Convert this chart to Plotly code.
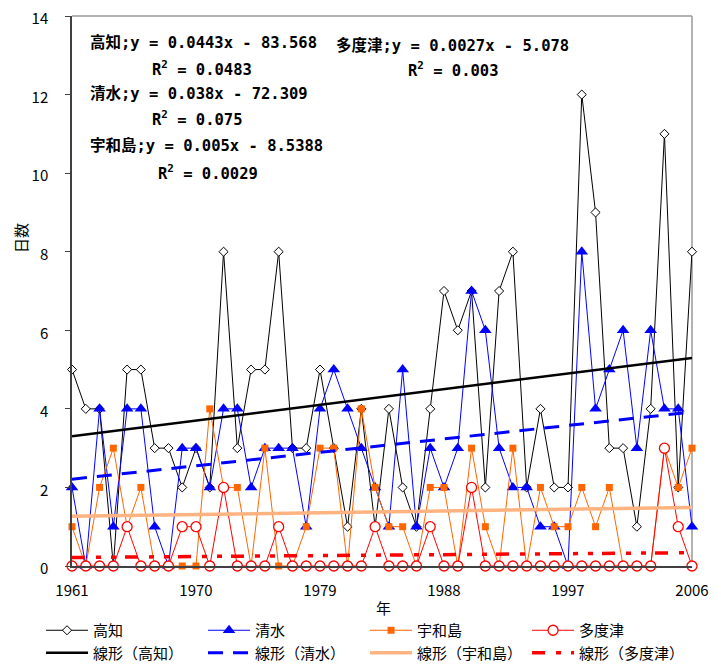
import plotly.graph_objects as go

# ---------------- data ----------------
years = list(range(1961, 2007))
kochi = [5, 4, 4, 0, 5, 5, 3, 3, 2, 3,
         2, 8, 3, 5, 5, 8, 3, 3, 5, 3,
         1, 4, 1, 4, 2, 1, 4, 7, 6, 7,
         2, 7, 8, 2, 4, 2, 2, 12, 9, 3,
         3, 1, 4, 11, 2, 8]
shimizu = [2, 0, 4, 1, 4, 4, 1, 0, 3, 3,
           2, 4, 4, 2, 3, 3, 3, 1, 4, 5,
           4, 3, 2, 1, 5, 1, 3, 2, 3, 7,
           6, 3, 2, 2, 1, 1, 0, 8, 4, 5,
           6, 3, 6, 4, 4, 1]
uwajima = [1, 0, 2, 3, 1, 2, 0, 0, 0, 0,
           4, 2, 2, 0, 3, 0, 0, 1, 3, 3,
           0, 4, 2, 1, 1, 0, 2, 2, 0, 3,
           1, 0, 3, 0, 2, 1, 1, 2, 1, 2,
           0, 0, 0, 3, 2, 3]
tadotsu = [0, 0, 0, 0, 1, 0, 0, 0, 1, 1,
           0, 2, 0, 0, 0, 1, 0, 0, 0, 0,
           0, 0, 1, 0, 0, 0, 1, 0, 0, 2,
           0, 0, 0, 0, 0, 0, 0, 0, 0, 0,
           0, 0, 0, 3, 1, 0]

series_names = ["高知", "清水", "宇和島", "多度津"]
trend_slope = [0.0443, 0.038, 0.005, 0.0027]
trend_intercept = [-83.568, -72.309, -8.5388, -5.078]
r_squared = ["0.0483", "0.075", "0.0029", "0.003"]
x_ticks = [1961, 1970, 1979, 1988, 1997, 2006]
y_ticks = [0, 2, 4, 6, 8, 10, 12, 14]

# ---------------- styles ----------------
OFF = 8                      # page body margin
W, H = 721 - OFF, 665 - OFF  # figure size
# plot area in page pixels
L, R, T, B = 72, 692, 16, 566
FONT = "Noto Sans CJK JP"
EQFONT = "DejaVu Sans Mono, Noto Sans CJK JP"

def px(x):
    return (x - L) / (R - L)

def py(y):
    return (B - y) / (B - T)

series_vals = [kochi, shimizu, uwajima, tadotsu]
line_cols = ["#000000", "#0000FF", "#FF6600", "#FF0000"]
mk = [
    dict(symbol="diamond", size=7, color="white", line=dict(color="black", width=1)),
    dict(symbol="triangle-up", size=11, color="#0000FF", line=dict(width=0)),
    dict(symbol="square", size=7, color="#FF6600", line=dict(width=0)),
    dict(symbol="circle", size=10, color="white", line=dict(color="#FF0000", width=1.3)),
]
trend_cols = ["#000000", "#0000FF", "#FFB380", "#FF0000"]
trend_w = [2.5, 3, 3.5, 3.5]
trend_dash = ["solid", "15px,10px", "solid", "13px,11px,5px,10px,5px,9px"]

fig = go.Figure()
for name, vals, c, m in zip(series_names, series_vals, line_cols, mk):
    fig.add_trace(go.Scatter(
        x=years, y=vals, name=name, mode="lines+markers",
        line=dict(color=c, width=1), marker=m, cliponaxis=False))

for name, a, b, c, w, d in zip(series_names, trend_slope, trend_intercept,
                               trend_cols, trend_w, trend_dash):
    xs = [years[0], years[-1]]
    fig.add_trace(go.Scatter(
        x=xs, y=[a * x + b for x in xs], name=f"線形（{name}）", mode="lines",
        line=dict(color=c, width=w, dash=d), cliponaxis=False))

# equation annotations (page pixel positions)
eq_pos = [(88, 43, 150, 68), (88, 94, 150, 119), (88, 146, 156, 172), (334, 45, 406, 70)]
for name, a, b, r2, (ex, ey, rx, ry) in zip(series_names, trend_slope, trend_intercept,
                                           r_squared, eq_pos):
    fig.add_annotation(x=px(ex), y=py(ey), xref="paper", yref="paper",
                       xanchor="left", yanchor="middle", showarrow=False,
                       text=f"<b>{name};y = {a}x - {abs(b)}</b>",
                       font=dict(family=EQFONT, size=15.5, color="black"))
    fig.add_annotation(x=px(rx), y=py(ry), xref="paper", yref="paper",
                       xanchor="left", yanchor="middle", showarrow=False,
                       text=f"<b>R<sup>2</sup> = {r2}</b>",
                       font=dict(family=EQFONT, size=15.5, color="black"))

# axis titles
fig.add_annotation(x=px(20), y=py(238), xref="paper", yref="paper", showarrow=False,
                   xanchor="center", yanchor="middle",
                   text="日数", textangle=-90, font=dict(family=FONT, size=15, color="black"))
fig.add_annotation(x=px(383), y=py(607), xref="paper", yref="paper", showarrow=False,
                   xanchor="center", yanchor="middle",
                   text="年", font=dict(family=FONT, size=15, color="black"))

# grey plot-area border (top and right)
fig.add_shape(type="line", xref="paper", yref="paper", x0=0, x1=1, y0=1, y1=1,
              line=dict(color="#999999", width=1.5), layer="below")
fig.add_shape(type="line", xref="paper", yref="paper", x0=1, x1=1, y0=0, y1=1,
              line=dict(color="#999999", width=1.5), layer="below")

fig.update_layout(
    width=W, height=H,
    margin=dict(l=L - OFF, r=W - (R - OFF), t=T - OFF, b=H - (B - OFF), autoexpand=False),
    paper_bgcolor="white", plot_bgcolor="white",
    font=dict(family=FONT, size=15, color="black"),
    showlegend=True,
    legend=dict(orientation="h", x=px(41), y=py(614), xanchor="left", yanchor="top",
                traceorder="normal", itemwidth=42,
                font=dict(family=FONT, size=15, color="black"),
                bgcolor="rgba(0,0,0,0)", tracegroupgap=0),
    xaxis=dict(range=[years[0], years[-1]], tickvals=x_ticks,
               ticktext=[str(t) for t in x_ticks], showgrid=False, zeroline=False,
               showline=True, linecolor="#404040", linewidth=1.5, ticks="",
               ticklabelstandoff=10, ticklabeloverflow="allow",
               tickfont=dict(family=FONT, size=15)),
    yaxis=dict(range=[0, 14], tickvals=y_ticks, showgrid=False, zeroline=False,
               showline=True, linecolor="#404040", linewidth=1.5, ticks="outside",
               ticklen=5, tickcolor="#404040", ticklabelstandoff=14,
               ticklabelshift=3, ticklabeloverflow="allow",
               tickfont=dict(family=FONT, size=15)),
)

fig.write_html("out.html")
